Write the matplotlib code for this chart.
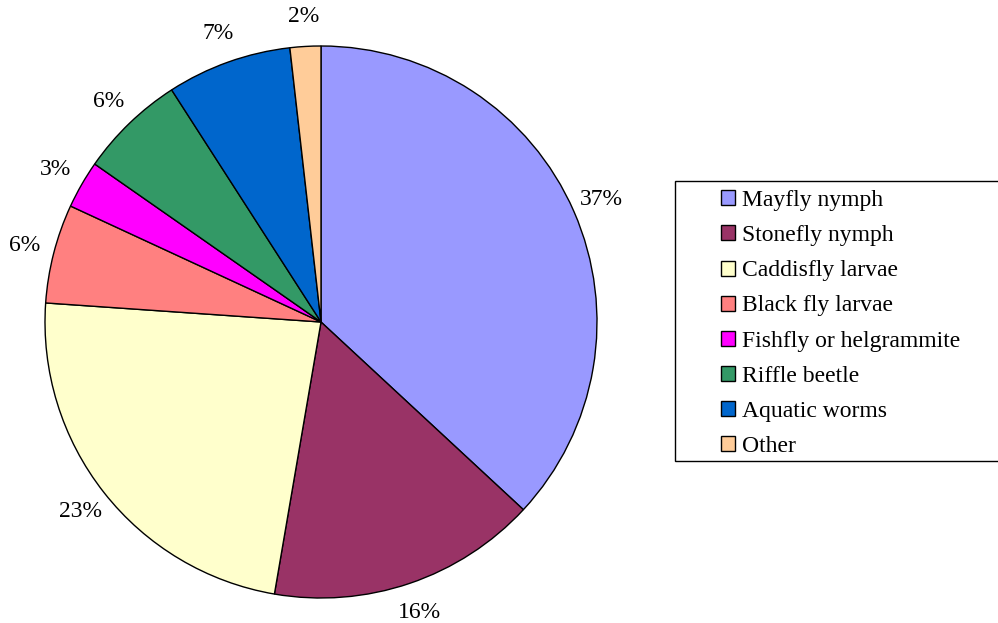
import matplotlib.pyplot as plt
from matplotlib.patches import Rectangle

plt.rcParams['font.family'] = ['Liberation Serif', 'DejaVu Serif']

labels = ['Mayfly nymph', 'Stonefly nymph', 'Caddisfly larvae', 'Black fly larvae',
          'Fishfly or helgrammite', 'Riffle beetle', 'Aquatic worms', 'Other']
values = [36.9, 15.8, 23.4, 5.8, 2.8, 6.2, 7.3, 1.8]
colors = ['#9999FF', '#993366', '#FFFFCC', '#FF8080',
          '#FF00FF', '#339966', '#0066CC', '#FFCC99']

W, H = 998, 623
fig = plt.figure(figsize=(W / 100, H / 100), dpi=100)

# pie centre ~(321, 322) px, radius ~276 px
cx, cy, r = 321, 322, 276
ax = fig.add_axes([(cx - r) / W, (H - cy - r) / H, 2 * r / W, 2 * r / H])
wedges, texts, autotexts = ax.pie(
    values, colors=colors, startangle=90, counterclock=False,
    autopct='%.0f%%', pctdistance=1.11, radius=1,
    wedgeprops=dict(edgecolor='black', linewidth=1))
for t in autotexts:
    t.set_fontsize(17)
ax.set_xlim(-1, 1)
ax.set_ylim(-1, 1)
ax.axis('off')

# legend frame (right side runs off the canvas)
fig.patches.append(Rectangle((675 / W, 1 - 461 / H), 340 / W, 280 / H,
                             transform=fig.transFigure, facecolor='white',
                             edgecolor='black', linewidth=1))
fig.legend(wedges, labels, loc='upper left', bbox_to_anchor=(721 / W, 1 - 190 / H),
           frameon=False, fontsize=17, borderpad=0, borderaxespad=0,
           handlelength=0.6, handleheight=0.6, handletextpad=0.3,
           labelspacing=0.6)

fig.savefig('out.png', dpi=100)
